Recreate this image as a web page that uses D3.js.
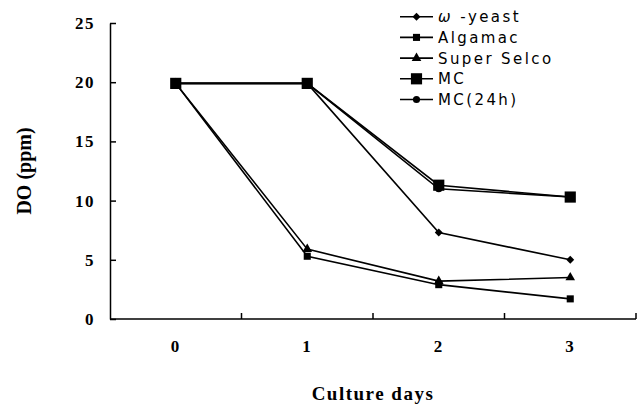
<!DOCTYPE html>
<html>
<head>
<meta charset="utf-8">
<script src="https://cdn.jsdelivr.net/npm/d3@7"></script>
<style>
  body { margin: 0; background: #fff; }
  .tick-label { font-family: "Liberation Serif", "Times New Roman", serif; font-weight: bold; font-size: 17px; letter-spacing: 1.5px; }
  .axis-title { font-family: "Liberation Serif", "Times New Roman", serif; font-weight: bold; }
  .legend text { font-family: "DejaVu Sans", sans-serif; font-size: 15px; letter-spacing: 2.4px; }
</style>
</head>
<body>
<svg class="chart"></svg>
<script>
// data
var days = ["0", "1", "2", "3"];
var yTicks = [0, 5, 10, 15, 20, 25];
var seriesNames = ["ω -yeast", "Algamac", "Super Selco", "MC", "MC(24h)"];
var omegaYeast = [19.9, 19.9, 7.3, 5.0];
var algamac = [19.9, 5.3, 2.9, 1.7];
var superSelco = [19.9, 5.9, 3.2, 3.5];
var mc = [19.9, 19.9, 11.3, 10.3];
var mc24h = [19.9, 19.9, 11.0, 10.3];

(function show() {
    'use strict';

    var width = 643, height = 405;
    var left = 110, right = 636, top = 23, bottom = 319;

    var svg = d3.select(".chart")
        .attr("width", width)
        .attr("height", height);

    var x = d3.scaleBand().domain(days).range([left, right]);
    var y = d3.scaleLinear().domain([0, 25]).range([bottom, top]);

    var series = [
        {name: seriesNames[0], values: omegaYeast, shape: "diamond"},
        {name: seriesNames[1], values: algamac, shape: "square"},
        {name: seriesNames[2], values: superSelco, shape: "triangle"},
        {name: seriesNames[3], values: mc, shape: "bigsquare"},
        {name: seriesNames[4], values: mc24h, shape: "circle"}
    ];

    var symbols = {
        diamond: d3.symbol().type(d3.symbolDiamond2).size(40),
        square: d3.symbol().type(d3.symbolSquare).size(50),
        triangle: d3.symbol().type(d3.symbolTriangle).size(40),
        bigsquare: d3.symbol().type(d3.symbolSquare).size(125),
        circle: d3.symbol().type(d3.symbolCircle).size(40)
    };

    // y axis, ticks point inward
    var yAxis = svg.append("g")
        .attr("transform", "translate(" + left + ",0)")
        .call(d3.axisLeft(y).tickValues(yTicks).tickSizeInner(-6).tickSizeOuter(0).tickFormat(""));
    yAxis.select(".domain").attr("stroke-width", 1.5);
    yAxis.selectAll(".tick line").attr("stroke-width", 1.5);

    svg.selectAll(".ylab")
        .data(yTicks)
        .enter().append("text")
        .attr("class", "tick-label")
        .attr("x", left - 15)
        .attr("y", function(d) { return y(d); })
        .attr("dy", "0.35em")
        .attr("text-anchor", "end")
        .text(function(d) { return d; });

    // x axis: ticks between categories, pointing up
    svg.append("line")
        .attr("x1", left).attr("x2", right)
        .attr("y1", bottom).attr("y2", bottom)
        .attr("stroke", "#000").attr("stroke-width", 1.5);

    svg.selectAll(".xtick")
        .data(days)
        .enter().append("line")
        .attr("x1", function(d) { return x(d) + x.bandwidth(); })
        .attr("x2", function(d) { return x(d) + x.bandwidth(); })
        .attr("y1", bottom).attr("y2", bottom - 6)
        .attr("stroke", "#000").attr("stroke-width", 1.5);

    svg.selectAll(".xlab")
        .data(days)
        .enter().append("text")
        .attr("class", "tick-label")
        .attr("x", function(d) { return x(d) + x.bandwidth() / 2; })
        .attr("y", 352)
        .attr("text-anchor", "middle")
        .text(function(d) { return d; });

    // axis titles
    svg.append("text")
        .attr("class", "axis-title")
        .attr("transform", "translate(31,171) rotate(-90)")
        .attr("text-anchor", "middle")
        .style("font-size", "20px")
        .text("DO (ppm)");

    svg.append("text")
        .attr("class", "axis-title")
        .attr("x", (left + right) / 2)
        .attr("y", 400)
        .attr("text-anchor", "middle")
        .style("font-size", "19px")
        .style("letter-spacing", "1.5px")
        .text("Culture days");

    // lines
    var line = d3.line()
        .x(function(d, i) { return x(days[i]) + x.bandwidth() / 2; })
        .y(function(d) { return y(d); });

    svg.selectAll(".series")
        .data(series)
        .enter().append("path")
        .attr("fill", "none")
        .attr("stroke", "#000")
        .attr("stroke-width", 1.6)
        .attr("d", function(d) { return line(d.values); });

    // markers
    series.forEach(function(s) {
        svg.selectAll(null)
            .data(s.values)
            .enter().append("path")
            .attr("d", symbols[s.shape])
            .attr("fill", "#000")
            .attr("transform", function(d, i) {
                return "translate(" + (x(days[i]) + x.bandwidth() / 2) + "," + y(d) + ")";
            });
    });

    // legend
    var legend = svg.append("g").attr("class", "legend");
    var rows = legend.selectAll("g")
        .data(series)
        .enter().append("g")
        .attr("transform", function(d, i) { return "translate(400," + (16.7 + i * 20.7) + ")"; });

    rows.append("line")
        .attr("x1", 0).attr("x2", 33)
        .attr("stroke", "#000").attr("stroke-width", 1.6);

    rows.append("path")
        .attr("d", function(d) { return symbols[d.shape](); })
        .attr("transform", "translate(16.5,0)")
        .attr("fill", "#000");

    rows.append("text")
        .attr("x", 38)
        .attr("dy", "0.36em")
        .each(function(d) {
            var t = d3.select(this);
            if (d.name.charAt(0) === "ω") {
                t.append("tspan").style("font-style", "italic").text("ω");
                t.append("tspan").text(d.name.slice(1));
            } else {
                t.text(d.name);
            }
        });
})();
</script>
</body>
</html>
